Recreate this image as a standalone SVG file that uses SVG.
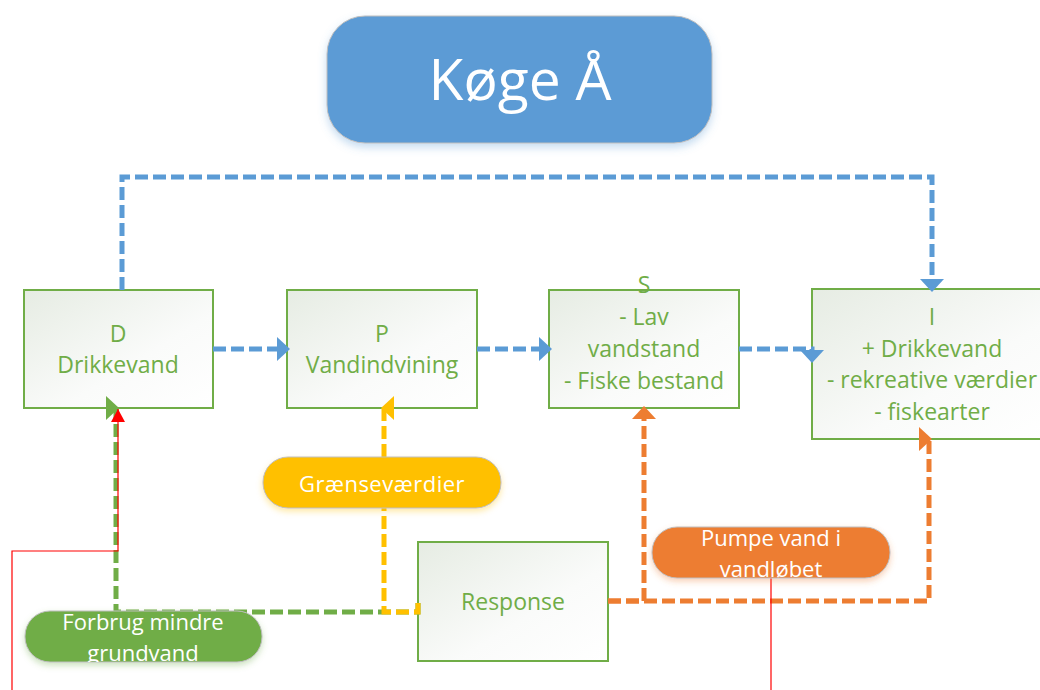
<svg xmlns="http://www.w3.org/2000/svg" width="1040" height="690" viewBox="0 0 1040 690">
  <style>
    .box { stroke: #70AD47; stroke-width: 2; fill: url(#boxFill); }
    .boxText { font-family: "Open Sans", "Liberation Sans", sans-serif; font-size: 23px; fill: #70AD47; text-anchor: middle; }
    .pillText { font-family: "Open Sans", "Liberation Sans", sans-serif; font-size: 22px; fill: #FFFFFF; text-anchor: middle; }
    .pill { stroke: #BFBFBF; stroke-width: 1; }
    .dash { fill: none; stroke-width: 5; stroke-dasharray: 13 5; }
    .blue { stroke: #5B9BD5; }
    .green { stroke: #70AD47; }
    .yellow { stroke: #FFC000; }
    .orange { stroke: #ED7D31; }
    .red { fill: none; stroke: #FF0000; stroke-width: 1.2; }
  </style>
  <defs>
    <linearGradient id="boxFill" x1="0" y1="0" x2="1" y2="1">
      <stop offset="0" stop-color="#E6ECE3"/>
      <stop offset="0.6" stop-color="#FAFBFA"/>
      <stop offset="1" stop-color="#FFFFFF"/>
    </linearGradient>
    <filter id="shadowBlue" x="-10%" y="-20%" width="120%" height="150%">
      <feDropShadow dx="0" dy="4" stdDeviation="4" flood-color="#5B9BD5" flood-opacity="0.35"/>
    </filter>
    <filter id="shadowYellow" x="-10%" y="-30%" width="120%" height="180%">
      <feDropShadow dx="0" dy="3" stdDeviation="3" flood-color="#FFC000" flood-opacity="0.35"/>
    </filter>
    <filter id="shadowGreen" x="-10%" y="-30%" width="120%" height="180%">
      <feDropShadow dx="0" dy="3" stdDeviation="3" flood-color="#70AD47" flood-opacity="0.35"/>
    </filter>
    <filter id="shadowOrange" x="-10%" y="-30%" width="120%" height="180%">
      <feDropShadow dx="0" dy="3" stdDeviation="3" flood-color="#ED7D31" flood-opacity="0.35"/>
    </filter>
    <marker id="arrBlue" markerUnits="userSpaceOnUse" markerWidth="14" markerHeight="24" refX="10" refY="12" orient="auto">
      <path d="M0,0 L13,12 L0,24 z" fill="#5B9BD5"/>
    </marker>
    <!-- fixed-direction heads for the elbow ends that meet a box bottom sideways -->
    <marker id="arrGreenRight" markerUnits="userSpaceOnUse" markerWidth="14" markerHeight="24" refX="10" refY="12" orient="0">
      <path d="M0,0 L13,12 L0,24 z" fill="#70AD47"/>
    </marker>
    <marker id="arrYellowLeft" markerUnits="userSpaceOnUse" markerWidth="14" markerHeight="24" refX="10" refY="12" orient="180">
      <path d="M0,0 L13,12 L0,24 z" fill="#FFC000"/>
    </marker>
    <marker id="arrOrange" markerUnits="userSpaceOnUse" markerWidth="14" markerHeight="24" refX="10" refY="12" orient="auto">
      <path d="M0,0 L13,12 L0,24 z" fill="#ED7D31"/>
    </marker>
    <marker id="arrOrangeRight" markerUnits="userSpaceOnUse" markerWidth="14" markerHeight="24" refX="10" refY="12" orient="0">
      <path d="M0,0 L13,12 L0,24 z" fill="#ED7D31"/>
    </marker>
    <marker id="arrRed" markerUnits="userSpaceOnUse" markerWidth="14" markerHeight="14" refX="13" refY="7" orient="auto">
      <path d="M0,0 L13,7 L0,14 z" fill="#FF0000"/>
    </marker>
    <clipPath id="clipForbrug"><rect x="25" y="611" width="237" height="51" rx="25"/></clipPath>
    <clipPath id="clipPumpe"><rect x="652" y="527" width="238" height="51" rx="25"/></clipPath>
  </defs>

  <!-- title -->
  <g id="title">
    <rect x="327" y="16" width="385" height="127" rx="38" fill="#5B9BD5" stroke="#BFBFBF" stroke-width="1" filter="url(#shadowBlue)"/>
    <text x="520" y="100" font-family="Open Sans, Liberation Sans, sans-serif" font-size="57" fill="#FFFFFF" text-anchor="middle">Køge Å</text>
  </g>

  <!-- DPSIR boxes -->
  <g id="node-D">
    <rect class="box" x="24" y="290" width="189" height="118"/>
    <text class="boxText" x="118" y="342">D</text>
    <text class="boxText" x="118" y="373">Drikkevand</text>
  </g>
  <g id="node-P">
    <rect class="box" x="287" y="290" width="190" height="118"/>
    <text class="boxText" x="382" y="342">P</text>
    <text class="boxText" x="382" y="373">Vandindvining</text>
  </g>
  <g id="node-S">
    <rect class="box" x="549" y="290" width="190" height="118"/>
    <text class="boxText" x="644" y="293">S</text>
    <text class="boxText" x="644" y="325">- Lav</text>
    <text class="boxText" x="644" y="357">vandstand</text>
    <text class="boxText" x="644" y="389">- Fiske bestand</text>
  </g>
  <g id="node-I">
    <rect class="box" x="812" y="289" width="240" height="150"/>
    <text class="boxText" x="932" y="325">I</text>
    <text class="boxText" x="932" y="357">+ Drikkevand</text>
    <text class="boxText" x="932" y="388">- rekreative værdier</text>
    <text class="boxText" x="932" y="420">- fiskearter</text>
  </g>
  <g id="node-R">
    <rect class="box" x="418" y="542" width="190" height="119"/>
    <text class="boxText" x="513" y="610">Response</text>
  </g>

  <!-- connectors (drawn over the box edges they meet) -->
  <g id="connectors">
    <path class="dash blue" d="M122,290 V177 H932 V289" marker-end="url(#arrBlue)"/>
    <path class="dash blue" d="M213,349 H287" marker-end="url(#arrBlue)"/>
    <path class="dash blue" d="M477,349 H549" marker-end="url(#arrBlue)"/>
    <path class="dash blue" d="M739,349 H812 V360" marker-end="url(#arrBlue)"/>
    <path class="dash green" d="M418,603 V612 H116 V408" marker-end="url(#arrGreenRight)"/>
    <path class="dash yellow" d="M418,603 V612 H384 V408" marker-end="url(#arrYellowLeft)"/>
    <path class="dash orange" d="M608,601 H644 V409" marker-end="url(#arrOrange)"/>
    <path class="dash orange" d="M608,601 H929 V439" marker-end="url(#arrOrangeRight)"/>
    <path class="red" d="M12,690 V551 H118 V409" marker-end="url(#arrRed)"/>
    <path class="red" d="M771,578 V690"/>
  </g>

  <!-- response labels -->
  <g id="label-graensevaerdier">
    <rect class="pill" x="263" y="457" width="238" height="51" rx="25" fill="#FFC000" filter="url(#shadowYellow)"/>
    <text class="pillText" x="382" y="492" letter-spacing="0.5">Grænseværdier</text>
  </g>
  <g id="label-forbrug">
    <rect class="pill" x="25" y="611" width="237" height="51" rx="25" fill="#70AD47" filter="url(#shadowGreen)"/>
    <g clip-path="url(#clipForbrug)">
      <text class="pillText" x="143" y="630">Forbrug mindre</text>
      <text class="pillText" x="143" y="661">grundvand</text>
    </g>
  </g>
  <g id="label-pumpe">
    <rect class="pill" x="652" y="527" width="238" height="51" rx="25" fill="#ED7D31" filter="url(#shadowOrange)"/>
    <g clip-path="url(#clipPumpe)">
      <text class="pillText" x="771" y="546">Pumpe vand i</text>
      <text class="pillText" x="771" y="577">vandløbet</text>
    </g>
  </g>
</svg>
